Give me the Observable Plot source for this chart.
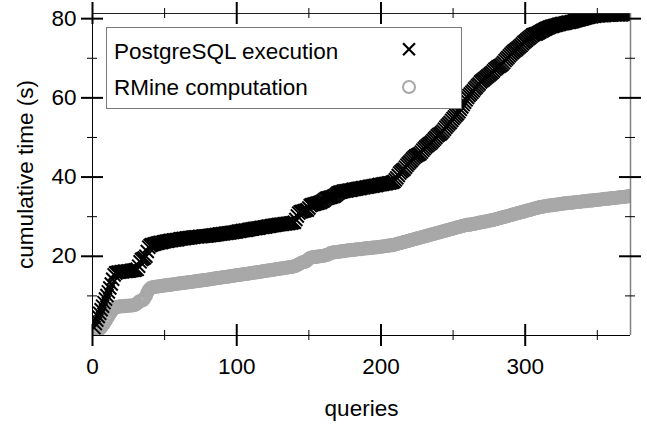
<!DOCTYPE html>
<html>
<head>
<meta charset="utf-8">
<script src="https://cdn.jsdelivr.net/npm/d3@7"></script>
<script src="https://cdn.jsdelivr.net/npm/@observablehq/plot@0.6"></script>
<style>
  html, body { margin: 0; padding: 0; background: #fff; }
  #wrap { position: relative; width: 647px; height: 427px; font-family: "Liberation Sans", Arial, sans-serif; }
  #legend { position: absolute; left: 106px; top: 27px; width: 356px; height: 82px; box-sizing: border-box;
            border: 1px solid #7a7a7a; background: #fff; }
  #legend svg { position: absolute; left: 0; top: 0; }
</style>
</head>
<body>
<div id="wrap"><div id="chart"></div><div id="legend"></div></div>
<script>
// ---- data ----
const seriesNames = ["PostgreSQL execution", "RMine computation"];
const xLabel = "queries";
const yLabel = "cumulative time (s)";
const xMajorTicks = [0, 100, 200, 300];
const xMinorTicks = [50, 150, 250, 350];
const yMajorTicks = [20, 40, 60, 80];
const yMinorTicks = [10, 30, 50, 70];

// cumulative PostgreSQL execution time (s) per query (1..373)
const postgresTimes = [
  2.0,3.0,3.9,4.8,5.6,6.5,7.4,8.3,9.2,10.1,
  11.0,12.0,13.0,14.2,15.3,15.8,15.9,16.0,16.0,16.1,
  16.1,16.2,16.2,16.2,16.3,16.3,16.4,16.5,16.5,16.6,
  16.7,17.5,18.6,19.2,19.4,19.6,20.0,21.2,22.3,22.7,
  22.9,23.0,23.1,23.2,23.3,23.4,23.5,23.5,23.6,23.7,
  23.8,23.8,23.9,24.0,24.0,24.1,24.1,24.2,24.2,24.3,
  24.4,24.4,24.5,24.5,24.6,24.6,24.7,24.7,24.8,24.8,
  24.9,24.9,24.9,25.0,25.0,25.0,25.1,25.1,25.1,25.2,
  25.2,25.3,25.3,25.4,25.4,25.5,25.5,25.6,25.6,25.7,
  25.7,25.8,25.8,25.9,25.9,26.0,26.0,26.1,26.1,26.2,
  26.3,26.3,26.4,26.5,26.5,26.6,26.6,26.7,26.8,26.8,
  26.9,27.0,27.0,27.1,27.1,27.2,27.3,27.3,27.4,27.4,
  27.5,27.6,27.6,27.7,27.8,27.8,27.9,27.9,28.0,28.0,
  28.1,28.1,28.2,28.2,28.3,28.3,28.4,28.4,28.5,28.6,
  29.3,30.2,30.9,31.2,31.3,31.4,31.5,31.6,31.7,32.2,
  32.8,33.0,33.1,33.2,33.3,33.4,33.5,33.6,33.8,34.0,
  34.3,34.6,34.7,34.8,34.9,35.0,35.1,35.3,35.6,35.9,
  36.1,36.2,36.3,36.4,36.5,36.5,36.6,36.7,36.7,36.8,
  36.9,36.9,37.0,37.1,37.1,37.2,37.3,37.3,37.4,37.5,
  37.5,37.6,37.7,37.7,37.8,37.9,37.9,38.0,38.1,38.1,
  38.2,38.3,38.3,38.4,38.5,38.5,38.6,38.7,38.9,39.3,
  39.8,40.4,41.0,41.4,41.7,42.0,42.5,43.0,43.4,43.8,
  44.2,44.6,45.0,45.3,45.5,45.7,45.9,46.3,46.8,47.2,
  47.6,47.9,48.2,48.5,48.8,49.2,49.6,50.0,50.4,50.7,
  50.9,51.2,51.6,52.1,52.6,53.0,53.4,53.8,54.3,54.8,
  55.2,55.6,56.0,56.5,57.1,57.7,58.3,58.9,59.5,60.1,
  60.6,61.0,61.4,61.8,62.3,62.7,63.1,63.5,64.0,64.3,
  64.6,64.9,65.2,65.5,65.8,66.1,66.4,66.8,67.2,67.5,
  67.8,68.0,68.2,68.5,68.9,69.4,69.8,70.2,70.6,71.0,
  71.4,71.7,72.0,72.3,72.6,72.9,73.2,73.6,74.0,74.3,
  74.6,74.9,75.2,75.5,75.8,76.0,76.1,76.2,76.4,76.6,
  76.8,77.0,77.2,77.4,77.6,77.7,77.9,78.0,78.1,78.2,
  78.3,78.4,78.5,78.6,78.7,78.8,78.8,78.9,79.0,79.1,
  79.1,79.2,79.3,79.4,79.5,79.6,79.7,79.8,79.9,80.0,
  80.1,80.2,80.3,80.4,80.5,80.5,80.6,80.6,80.7,80.7,
  80.7,80.8,80.8,80.8,80.8,80.9,80.9,80.9,80.9,80.9,
  81.0,81.0,81.0,81.0,81.0,81.0,81.0,81.1,81.1,81.1,
  81.1,81.1,81.1
];

// cumulative RMine computation time (s) per query (1..373)
const rmineTimes = [
  1.2,1.3,1.4,1.5,1.7,2.0,2.5,3.0,3.6,4.2,
  4.8,5.4,6.0,6.5,6.9,7.1,7.2,7.3,7.3,7.4,
  7.4,7.4,7.5,7.5,7.5,7.6,7.6,7.6,7.7,7.8,
  8.1,8.5,8.7,8.8,8.9,9.3,10.0,10.8,11.5,11.9,
  12.1,12.2,12.3,12.3,12.4,12.4,12.5,12.5,12.6,12.6,
  12.7,12.7,12.8,12.8,12.9,12.9,13.0,13.0,13.1,13.1,
  13.2,13.2,13.3,13.3,13.4,13.4,13.5,13.5,13.6,13.6,
  13.7,13.7,13.8,13.8,13.9,13.9,14.0,14.0,14.1,14.1,
  14.2,14.2,14.3,14.3,14.4,14.5,14.5,14.6,14.6,14.7,
  14.7,14.8,14.8,14.9,14.9,15.0,15.0,15.1,15.2,15.2,
  15.3,15.3,15.4,15.4,15.5,15.5,15.6,15.6,15.7,15.8,
  15.8,15.9,15.9,16.0,16.0,16.1,16.1,16.2,16.3,16.3,
  16.4,16.4,16.5,16.5,16.6,16.6,16.7,16.8,16.8,16.9,
  16.9,17.0,17.0,17.1,17.2,17.2,17.3,17.3,17.4,17.5,
  17.6,17.8,18.0,18.2,18.4,18.5,18.6,18.7,19.0,19.4,
  19.6,19.7,19.8,19.8,19.9,19.9,20.0,20.0,20.1,20.1,
  20.2,20.3,20.4,20.6,20.8,20.9,21.0,21.0,21.1,21.1,
  21.2,21.2,21.3,21.3,21.4,21.4,21.5,21.5,21.5,21.6,
  21.6,21.7,21.7,21.8,21.8,21.8,21.9,21.9,22.0,22.0,
  22.0,22.1,22.1,22.2,22.2,22.2,22.3,22.3,22.4,22.4,
  22.5,22.5,22.6,22.6,22.7,22.7,22.8,22.8,22.9,23.0,
  23.1,23.2,23.3,23.4,23.5,23.6,23.7,23.8,23.9,24.0,
  24.1,24.2,24.3,24.4,24.5,24.6,24.7,24.8,24.9,25.0,
  25.1,25.2,25.3,25.4,25.5,25.6,25.7,25.8,25.9,26.0,
  26.1,26.2,26.3,26.4,26.5,26.6,26.7,26.8,26.9,27.0,
  27.1,27.2,27.3,27.4,27.5,27.6,27.7,27.8,27.9,28.0,
  27.9,28.0,28.1,28.2,28.2,28.3,28.4,28.5,28.5,28.6,
  28.7,28.8,28.8,28.9,29.0,29.1,29.1,29.2,29.3,29.4,
  29.5,29.6,29.7,29.8,29.9,30.0,30.1,30.2,30.3,30.4,
  30.5,30.6,30.7,30.8,30.9,31.0,31.1,31.2,31.3,31.4,
  31.5,31.6,31.7,31.8,31.9,32.0,32.1,32.2,32.3,32.4,
  32.5,32.5,32.6,32.7,32.7,32.8,32.8,32.9,32.9,33.0,
  33.0,33.1,33.1,33.2,33.2,33.3,33.3,33.4,33.4,33.5,
  33.5,33.5,33.6,33.6,33.7,33.7,33.7,33.8,33.8,33.9,
  33.9,33.9,34.0,34.0,34.1,34.1,34.1,34.2,34.2,34.3,
  34.3,34.3,34.4,34.4,34.5,34.5,34.5,34.6,34.6,34.7,
  34.7,34.7,34.8,34.8,34.9,34.9,34.9,35.0,35.0,35.1,
  35.1,35.2,35.2
];

const xDomainMax = 373;
const yDomainMax = 81.3;

// ---- layout ----
const W = 647, H = 427;
const mL = 92, mR = 17, mT = 13, mB = 92;
const innerW = W - mL - mR, innerH = H - mT - mB;
const FONT = "Liberation Sans, Arial, Helvetica, sans-serif";
const FS = 22.5;

const pgData = postgresTimes.map((v, i) => ({query: i + 1, time: v}));
const rmData = rmineTimes.map((v, i) => ({query: i + 1, time: v}));

const major = 11, minor = 5;

const chart = Plot.plot({
  width: W, height: H,
  marginLeft: mL, marginRight: mR, marginTop: mT, marginBottom: mB,
  x: {domain: [0, xDomainMax], axis: null},
  y: {domain: [0, yDomainMax], axis: null},
  style: {fontFamily: FONT, fontSize: FS + "px", color: "#000", background: "#fff", overflow: "visible"},
  marks: [
    Plot.dot(rmData, {x: "query", y: "time", r: 6, stroke: "#a8a8a8", strokeWidth: 2, fill: "none", clip: true}),
    Plot.dot(pgData, {x: "query", y: "time", r: 6, symbol: "times", stroke: "#000", strokeWidth: 2, clip: true}),
    // frame lines
    Plot.ruleY([0], {stroke: "#000", strokeWidth: 1}),
    Plot.ruleY([yDomainMax], {stroke: "#222", strokeWidth: 1}),
    Plot.ruleX([0], {stroke: "#000", strokeWidth: 1}),
    Plot.ruleX([xDomainMax], {stroke: "#808080", strokeWidth: 1.5}),
    // bottom ticks (crossing the axis)
    Plot.tickX(xMajorTicks, {x: d => d, insetTop: innerH - major, insetBottom: -major, stroke: "#000", strokeWidth: 2}),
    Plot.tickX(xMinorTicks, {x: d => d, insetTop: innerH - minor, insetBottom: -minor, stroke: "#000", strokeWidth: 1}),
    // top ticks
    Plot.tickX(xMajorTicks, {x: d => d, insetTop: -major, insetBottom: innerH - major, stroke: "#000", strokeWidth: 2}),
    Plot.tickX(xMinorTicks, {x: d => d, insetTop: -minor, insetBottom: innerH - minor, stroke: "#000", strokeWidth: 1}),
    // left ticks
    Plot.tickY(yMajorTicks, {y: d => d, insetLeft: -major, insetRight: innerW - major, stroke: "#000", strokeWidth: 2}),
    Plot.tickY(yMinorTicks, {y: d => d, insetLeft: -minor, insetRight: innerW - minor, stroke: "#000", strokeWidth: 1}),
    // right ticks
    Plot.tickY(yMajorTicks, {y: d => d, insetLeft: innerW - major, insetRight: -major, stroke: "#000", strokeWidth: 2}),
    Plot.tickY(yMinorTicks, {y: d => d, insetLeft: innerW - minor, insetRight: -minor, stroke: "#000", strokeWidth: 1}),
    // tick labels
    Plot.axisX(xMajorTicks, {anchor: "bottom", tickSize: 0, tickPadding: 23, label: null, fontSize: FS}),
    Plot.axisY(yMajorTicks, {anchor: "left", tickSize: 0, tickPadding: 16, label: null, fontSize: FS}),
    // axis titles
    Plot.text([xLabel], {frameAnchor: "bottom", dy: 80, lineAnchor: "bottom", textAnchor: "middle", fontSize: FS, fill: "#000"}),
    Plot.text([yLabel], {frameAnchor: "left", rotate: -90, dx: -67, textAnchor: "middle", lineAnchor: "middle", fontSize: FS, fill: "#000"})
  ]
});
document.getElementById("chart").appendChild(chart);

// ---- legend (boxed, upper-left of the plot) ----
const legend = d3.select("#legend").append("svg").attr("width", 356).attr("height", 82);
legend.append("text").attr("x", 7).attr("y", 30.5).attr("font-family", FONT).attr("font-size", FS)
  .attr("fill", "#000").text(seriesNames[0]);
legend.append("text").attr("x", 7).attr("y", 66.5).attr("font-family", FONT).attr("font-size", FS)
  .attr("fill", "#000").text(seriesNames[1]);
legend.append("path").attr("transform", "translate(302,21.3)")
  .attr("d", d3.symbol(d3.symbolTimes, Math.PI * 30)())
  .attr("stroke", "#000").attr("stroke-width", 2.2).attr("fill", "none");
legend.append("circle").attr("cx", 302).attr("cy", 59).attr("r", 6)
  .attr("stroke", "#a8a8a8").attr("stroke-width", 2).attr("fill", "none");
</script>
</body>
</html>
